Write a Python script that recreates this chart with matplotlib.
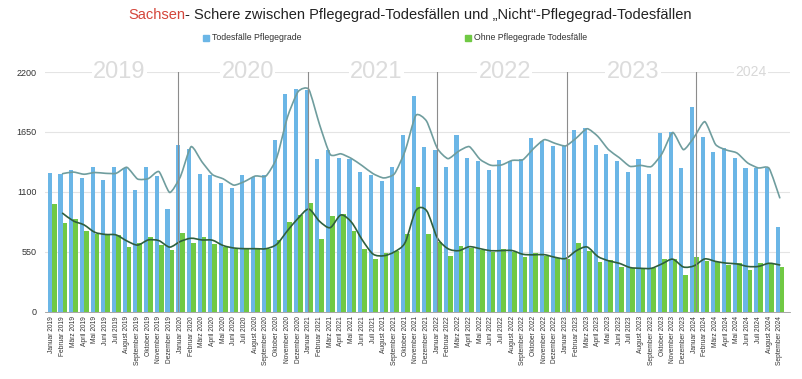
import matplotlib.pyplot as plt
from matplotlib.patches import Rectangle, PathPatch
from matplotlib.path import Path
import numpy as np
import pandas as pd

plt.rcParams['font.family'] = ['Liberation Sans', 'DejaVu Sans']

monate = ['Januar', 'Februar', 'März', 'April', 'Mai', 'Juni', 'Juli',
          'August', 'September', 'Oktober', 'November', 'Dezember']
jahre = [2019, 2020, 2021, 2022, 2023, 2024]

# Todesfälle mit Pflegegrad, Jan 2019 - Sep 2024
mit_pflegegrad = [
    1271, 1265, 1300, 1225, 1332, 1210, 1332, 1320, 1118, 1326, 1247, 944,
    1535, 1495, 1262, 1256, 1185, 1140, 1252, 1241, 1252, 1572, 1998, 2042,
    2038, 1400, 1488, 1412, 1400, 1280, 1256, 1201, 1332, 1622, 1983, 1516,
    1485, 1326, 1622, 1409, 1388, 1302, 1393, 1386, 1405, 1592, 1567, 1525,
    1520, 1670, 1690, 1530, 1446, 1384, 1286, 1402, 1265, 1638, 1653, 1323,
    1882, 1607, 1464, 1506, 1409, 1323, 1317, 1317, 776,
]
# Todesfälle ohne Pflegegrad
ohne_pflegegrad = [
    990, 819, 850, 746, 715, 706, 706, 596, 630, 690, 617, 572,
    721, 630, 690, 625, 592, 580, 580, 580, 580, 660, 828, 889,
    996, 666, 880, 898, 744, 575, 486, 544, 558, 715, 1143, 715,
    645, 515, 608, 588, 572, 550, 575, 550, 507, 540, 510, 492,
    488, 635, 556, 461, 477, 415, 400, 400, 400, 482, 485, 339,
    507, 465, 461, 434, 446, 388, 446, 446, 415,
]

labels = [f'{m} {j}' for j in jahre for m in monate][:len(mit_pflegegrad)]

BLAU = '#6bb6e6'
GRUEN = '#70c944'


def glatte_linie(ax, xs, ys, farbe, lw, spannung=10):
    # Kurven durch die Punkte, leicht geglaettet (wie in Numbers)
    p = np.column_stack([xs, ys])
    verts = [p[0]]
    codes = [Path.MOVETO]
    for i in range(len(p) - 1):
        p0 = p[i - 1] if i > 0 else p[i]
        p3 = p[i + 2] if i + 2 < len(p) else p[i + 1]
        c1 = p[i] + (p[i + 1] - p0) / spannung
        c2 = p[i + 1] - (p3 - p[i]) / spannung
        verts += [c1, c2, p[i + 1]]
        codes += [Path.CURVE4] * 3
    ax.add_patch(PathPatch(Path(verts, codes), fill=False, edgecolor=farbe,
                           lw=lw, zorder=3, capstyle='round'))


def main():
    x = np.arange(len(labels))
    trend_mit = pd.Series(mit_pflegegrad).rolling(2).mean()
    trend_ohne = pd.Series(ohne_pflegegrad).rolling(2).mean()

    fig = plt.figure(figsize=(8.03, 3.79), dpi=100)
    ax = fig.add_axes([0.056, 0.177, 0.928, 0.633])

    ax.bar(x - 0.2, mit_pflegegrad, width=0.38, color=BLAU, zorder=2)
    ax.bar(x + 0.21, ohne_pflegegrad, width=0.44, color=GRUEN, zorder=2)
    glatte_linie(ax, x[1:], trend_mit[1:], '#6f9d9e', 1.2)
    glatte_linie(ax, x[1:], trend_ohne[1:], '#2f5f3c', 1.2, spannung=7)

    ax.set_xlim(-0.65, 68.97)
    ax.set_ylim(0, 2200)
    ax.set_yticks([0, 550, 1100, 1650, 2200])
    ax.tick_params(axis='y', length=0, labelsize=6.5, labelcolor='#333333', pad=6)
    ax.set_xticks(x)
    ax.set_xticklabels(labels, rotation=90, fontsize=4.8, color='#333333')
    ax.tick_params(axis='x', length=0, pad=3)
    ax.grid(axis='y', color='#e4e4e4', lw=0.8, zorder=0)
    for side in ['top', 'right', 'left']:
        ax.spines[side].set_visible(False)
    ax.spines['bottom'].set_color('#999999')
    ax.spines['bottom'].set_linewidth(0.6)

    # Jahres-Trennlinien und Jahreszahlen
    for k in range(1, 6):
        ax.axvline(12 * k - 0.3 + 0.1 * k, ymin=0, ymax=1, color='#8c8c8c', lw=0.8, zorder=4)
    for k, jahr in enumerate(jahre):
        if jahr == 2024:
            ax.text(12 * k + 5.3, 2200, str(jahr), ha='center', va='center', fontsize=10,
                    color='#d8d8d8', zorder=5, clip_on=False,
                    bbox=dict(facecolor='white', edgecolor='none', pad=1))
        else:
            ax.text(12 * k + 6.3, 2200, str(jahr), ha='center', va='center', fontsize=17,
                    color='#dcdcdc', zorder=5, clip_on=False,
                    bbox=dict(facecolor='white', edgecolor='none', pad=1))

    # Titel
    t1 = fig.text(128 / 803, 0.96, 'Sachsen', color='#d4463b', fontsize=10.5,
                  ha='left', va='center')
    ax.annotate('- Schere zwischen Pflegegrad-Todesfällen und \u201eNicht\u201c-Pflegegrad-Todesfällen',
                xy=(1, 0), xycoords=t1, va='bottom', ha='left', fontsize=10.5,
                color='#222222', annotation_clip=False)

    # Legende
    for px, text, farbe in [(203, 'Todesfälle Pflegegrade', BLAU),
                            (465, 'Ohne Pflegegrade Todesfälle', GRUEN)]:
        fig.add_artist(Rectangle((px / 803, 0.892), 6 / 803, 6 / 379,
                                 transform=fig.transFigure, color=farbe))
        fig.text((px + 9) / 803, 0.9, text, fontsize=6.3, color='#333333',
                 ha='left', va='center')

    fig.savefig('out.png', dpi=100)


if __name__ == '__main__':
    main()
